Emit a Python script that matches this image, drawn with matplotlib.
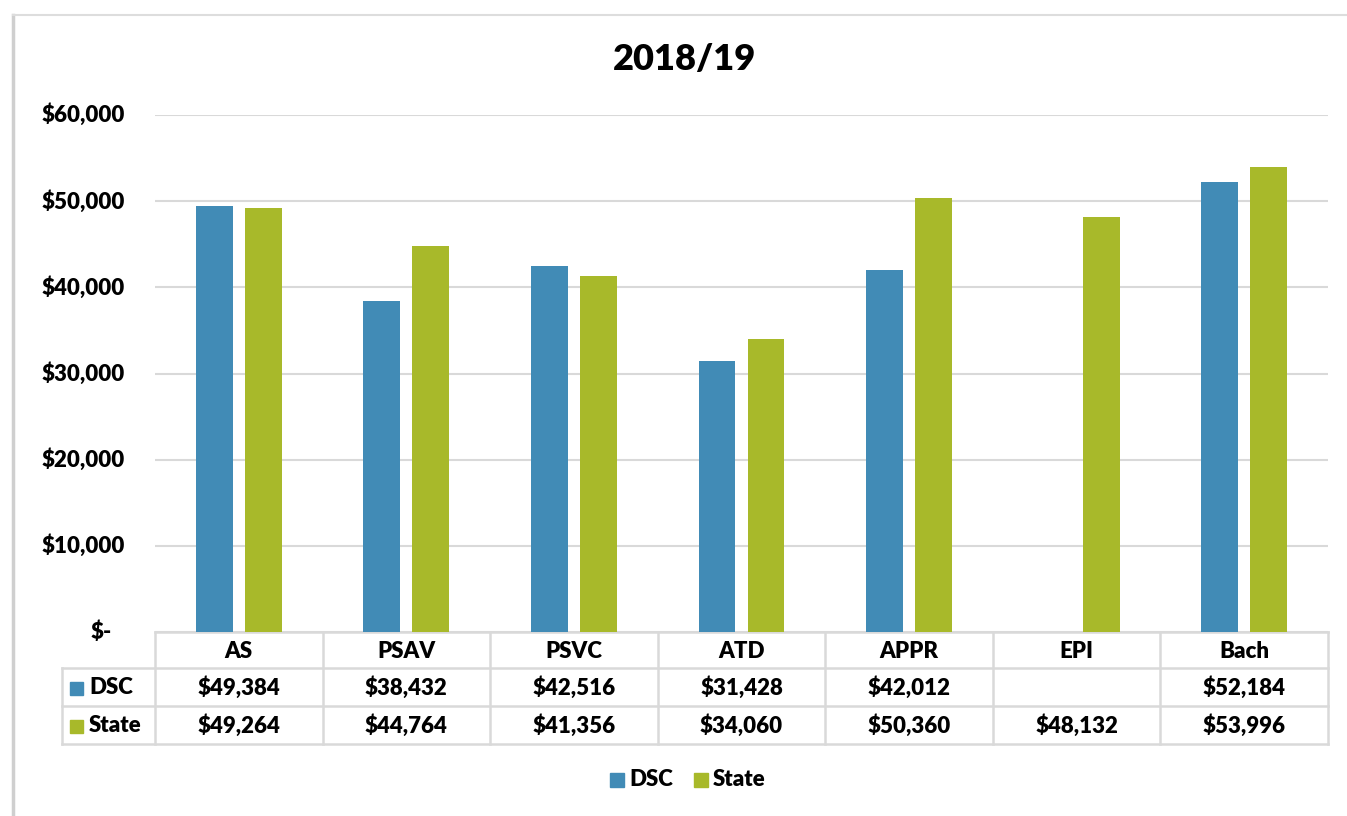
import matplotlib.pyplot as plt
from matplotlib.lines import Line2D
from matplotlib.patches import Rectangle
from matplotlib.transforms import blended_transform_factory

plt.rcParams['font.family'] = ['Lato', 'DejaVu Sans']
plt.rcParams['font.weight'] = 'heavy'

categories = ["AS", "PSAV", "PSVC", "ATD", "APPR", "EPI", "Bach"]
dsc = [49384, 38432, 42516, 31428, 42012, None, 52184]
state = [49264, 44764, 41356, 34060, 50360, 48132, 53996]
series_names = ["DSC", "State"]
yticks = [0, 10000, 20000, 30000, 40000, 50000, 60000]

blue = "#418BB6"
green = "#A8B92A"
grid = "#D9D9D9"
W, H = 1347, 816
fs = 16

def fx(x):
    return x / W

def fy(y):
    return 1 - y / H

def money(v):
    return "" if v is None else "${:,}".format(v)

fig = plt.figure(figsize=(W / 100, H / 100), dpi=100)
ax = fig.add_axes([fx(155), fy(632), fx(1328) - fx(155), fy(115) - fy(632)])

# chart frame
fig.add_artist(Line2D([fx(13), fx(13)], [0, fy(15)], color="#CFCFCF", lw=2.5))
fig.add_artist(Line2D([fx(13), 1], [fy(15), fy(15)], color="#DDDDDD", lw=1.5))

pos = [i + 0.5 for i in range(len(categories))]
bw = 0.22
off = 0.146
ax.bar([p - off for p in pos], [0 if v is None else v for v in dsc], bw, color=blue, zorder=3)
ax.bar([p + off for p in pos], state, bw, color=green, zorder=3)

ax.set_xlim(0, len(categories))
ax.set_ylim(0, 60000)
ax.set_yticks(yticks)
ax.yaxis.grid(True, color=grid, lw=1.5)
ax.set_axisbelow(True)
ax.tick_params(left=False, bottom=False, labelleft=False, labelbottom=False)
for s in ax.spines.values():
    s.set_visible(False)

for t in yticks:
    lab = "$-" if t == 0 else "${:,}".format(t)
    xx = -0.26 if t == 0 else -0.18
    ax.text(xx, t, lab, ha="right", va="center", fontsize=fs,
            transform=blended_transform_factory(ax.transData, ax.transData), clip_on=False)

fig.text(0.5085, fy(60), "2018/19", ha="center", va="center", fontsize=26)

# data table
tr = blended_transform_factory(ax.transData, fig.transFigure)
rows_y = [632, 668, 706, 744]
lc = dict(color=grid, lw=1.8, transform=tr, clip_on=False)
ax.add_line(Line2D([0, 7], [fy(rows_y[0])] * 2, **lc))
for y in rows_y[1:]:
    ax.add_line(Line2D([-0.555, 7], [fy(y)] * 2, **lc))
for i in range(len(categories) + 1):
    ax.add_line(Line2D([i, i], [fy(rows_y[0]), fy(rows_y[3])], **lc))
ax.add_line(Line2D([-0.555, -0.555], [fy(rows_y[1]), fy(rows_y[3])], **lc))

for i, c in enumerate(categories):
    ax.text(pos[i], fy(651), c, ha="center", va="center", fontsize=fs, transform=tr)
    ax.text(pos[i], fy(688), money(dsc[i]), ha="center", va="center", fontsize=fs, transform=tr)
    ax.text(pos[i], fy(726), money(state[i]), ha="center", va="center", fontsize=fs, transform=tr)

for name, col, y in zip(series_names, [blue, green], [688, 726]):
    fig.add_artist(Rectangle((fx(70), fy(y + 7)), fx(13), fy(y - 6) - fy(y + 7), color=col))
    fig.text(fx(89), fy(y), name, ha="left", va="center", fontsize=fs)

# legend
for name, col, x in zip(series_names, [blue, green], [610, 694]):
    fig.add_artist(Rectangle((fx(x), fy(787)), fx(14), fy(773) - fy(787), color=col))
    fig.text(fx(x + 19), fy(780), name, ha="left", va="center", fontsize=fs)

fig.savefig("out.png", dpi=100)
